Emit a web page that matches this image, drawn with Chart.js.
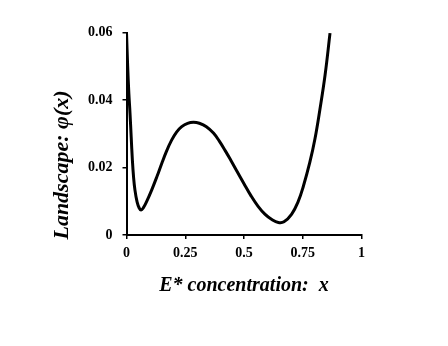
<!DOCTYPE html>
<html>
<head>
<meta charset="utf-8">
<script src="https://cdn.jsdelivr.net/npm/chart.js@4.4.1/dist/chart.umd.min.js"></script>
<style>
  html, body { margin: 0; padding: 0; background: #fff; }
  #wrap { width: 448px; height: 346px; }
</style>
</head>
<body>
<div id="wrap"><canvas id="landscape" width="448" height="346"></canvas></div>
<script>
// values
const concentration = [0, 0.005, 0.01, 0.015, 0.02, 0.025, 0.03, 0.036, 0.045, 0.054, 0.062, 0.072, 0.085, 0.107, 0.13, 0.15, 0.17, 0.192, 0.213, 0.235, 0.26, 0.285, 0.31, 0.34, 0.37, 0.395, 0.42, 0.445, 0.47, 0.5, 0.53, 0.56, 0.59, 0.62, 0.646, 0.67, 0.703, 0.73, 0.752, 0.78, 0.802, 0.823, 0.845, 0.866];
const landscape = [0.06, 0.05, 0.042, 0.036, 0.029, 0.0222, 0.0172, 0.0133, 0.0098, 0.008, 0.0074, 0.0081, 0.0098, 0.0133, 0.0174, 0.0212, 0.0248, 0.0281, 0.0305, 0.0321, 0.0331, 0.0334, 0.0331, 0.0321, 0.0302, 0.0278, 0.025, 0.022, 0.0189, 0.0152, 0.0116, 0.0085, 0.0061, 0.0045, 0.0037, 0.0039, 0.0062, 0.0098, 0.0143, 0.0215, 0.0285, 0.0372, 0.0474, 0.0598];

const xTickLabels = ["0", "0.25", "0.5", "0.75", "1"];
const yTickLabels = ["0", "0.02", "0.04", "0.06"];

const serif = "'Liberation Serif', 'Times New Roman', serif";

// y title drawn by hand so it can sit off-centre like the original
const yTitlePlugin = {
    id: "yTitle",
    afterDraw(chart) {
        const ctx = chart.ctx;
        ctx.save();
        ctx.translate(62, 165);
        ctx.rotate(-Math.PI / 2);
        ctx.font = "italic bold 22px " + serif;
        ctx.fillStyle = "#000";
        ctx.textAlign = "center";
        ctx.textBaseline = "middle";
        ctx.fillText("Landscape: \u03c6(x)", 0, 0);
        ctx.restore();
    }
};

new Chart(document.getElementById("landscape"), {
    type: "line",
    data: {
        datasets: [{
            data: concentration.map((c, i) => ({ x: c, y: landscape[i] })),
            borderColor: "#000",
            borderWidth: 3,
            pointRadius: 0,
            fill: false,
            tension: 0.4
        }]
    },
    options: {
        responsive: false,
        animation: false,
        events: [],
        layout: { padding: { left: 0, right: 86.5, top: 32.5, bottom: 346 - 235 - 63 } },
        plugins: { legend: { display: false }, tooltip: { enabled: false } },
        scales: {
            x: {
                type: "linear",
                min: 0,
                max: 1,
                afterFit: s => { s.height = 63; },
                afterBuildTicks: s => { s.ticks = [0, 0.25, 0.5, 0.75, 1].map(v => ({ value: v })); },
                border: { color: "#000", width: 2 },
                grid: { drawOnChartArea: false, drawTicks: true, tickLength: 4, color: "#000", lineWidth: 1.5 },
                ticks: {
                    color: "#000",
                    padding: 6,
                    maxRotation: 0,
                    font: { family: serif, size: 14, weight: "bold" },
                    callback: (v, i) => xTickLabels[i]
                },
                title: {
                    display: true,
                    text: "E* concentration:  x",
                    align: "center",
                    color: "#000",
                    padding: 0,
                    font: { family: serif, size: 20, weight: "bold", style: "italic" }
                }
            },
            y: {
                type: "linear",
                min: 0,
                max: 0.06,
                afterFit: s => { s.width = 126.5; },
                afterBuildTicks: s => { s.ticks = [0, 0.02, 0.04, 0.06].map(v => ({ value: v })); },
                border: { color: "#000", width: 2 },
                grid: { drawOnChartArea: false, drawTicks: true, tickLength: 4, color: "#000", lineWidth: 1.5 },
                ticks: {
                    color: "#000",
                    padding: 10,
                    font: { family: serif, size: 14, weight: "bold" },
                    callback: (v, i) => yTickLabels[i]
                }
            }
        }
    },
    plugins: [yTitlePlugin]
});
</script>
</body>
</html>
